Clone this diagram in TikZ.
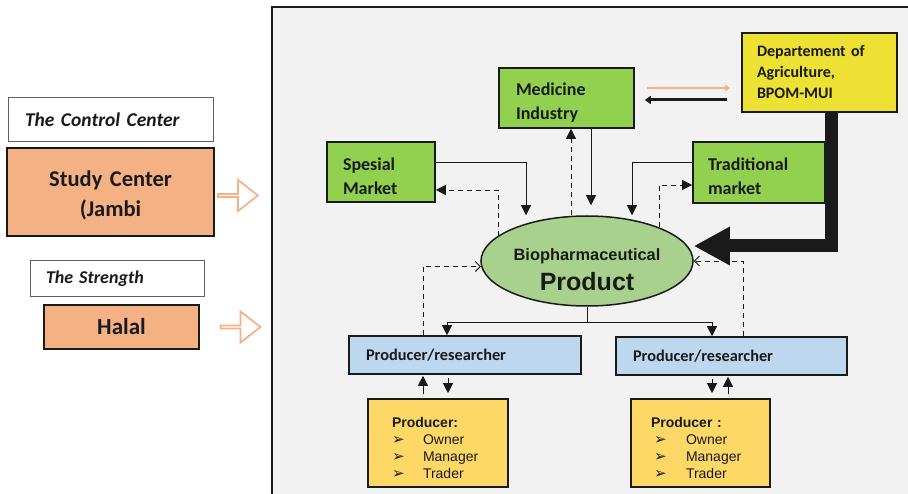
\documentclass[tikz,border=0pt]{standalone}
\usepackage{fontspec}
\setmainfont{Carlito}
\newfontfamily\arialf{Liberation Sans}
\newfontfamily\dvf{DejaVu Sans}
\usetikzlibrary{arrows.meta,shapes.geometric,shapes.arrows,calc}
\definecolor{panelgray}{HTML}{F2F2F2}
\definecolor{gfill}{HTML}{92D050}
\definecolor{peach}{HTML}{F4B183}
\definecolor{deptyel}{HTML}{EDE233}
\definecolor{blueone}{HTML}{BDD7EE}
\definecolor{yeltwo}{HTML}{FDD866}
\definecolor{ellg}{HTML}{A9D18E}
\definecolor{ink}{HTML}{1A1A1A}
\newcommand\bulx[1]{\makebox[#1][l]{\dvf\fontsize{15}{17}\selectfont ➢}}
\newcommand\strutx[1]{\rule{0pt}{#1}}
\begin{document}
\begin{tikzpicture}[x=1pt,y=-1pt,
 box/.style={draw=ink, line width=1.6pt, rectangle, inner ysep=0pt, align=left, text=ink},
 wbox/.style={draw=ink!70, line width=1pt, fill=white, rectangle, inner ysep=0pt, align=left, text=ink},
 arr/.style={-{Triangle[length=10pt,width=10pt]}, line width=0.9pt, draw=ink},
 darr/.style={arr, dash pattern=on 5pt off 4pt},
 oarr/.style={-{Straight Barb[length=5pt,width=10pt,line width=1pt]}, line width=0.9pt, draw=ink, dash pattern=on 5pt off 4pt},
 barrow/.style={single arrow, draw=peach, line width=1.7pt, fill=white, minimum width=31, minimum height=40, single arrow head extend=8.5, single arrow tip angle=76, inner sep=0}
]
\useasboundingbox (0,0) rectangle (908,494);
\fill[white] (0,0) rectangle (908,494);
% panel
\fill[panelgray] (272,7) rectangle (915,500);
\draw[ink, line width=1.5pt] (272,500) -- (272,7) -- (915,7);

% left column
\node[wbox, minimum width=205, minimum height=44, text width=171, inner xsep=17,
  font=\bfseries\itshape\fontsize{19.5}{23}\selectfont] (cc) at (110.5,120) {The Control Center};
\node[box, fill=peach, line width=2pt, minimum width=207, minimum height=88, text width=180, inner xsep=13.5, align=center,
  font=\bfseries\fontsize{22.5}{30}\selectfont] (study) at (110.5,192) {\strutx{23pt}Study Center\\(Jambi};
\node[wbox, minimum width=174, minimum height=36, text width=142, inner xsep=16,
  font=\bfseries\itshape\fontsize{18}{22}\selectfont] (str) at (117,279) {The Strength};
\node[box, fill=peach, minimum width=155, minimum height=44, text width=130, inner xsep=12.5, align=center,
  font=\bfseries\fontsize{23}{27}\selectfont] (halal) at (121.5,327) {Halal};
\node[barrow] (ba1) at (237,195.5) {};
\node[barrow] (ba2) at (239.5,327) {};

% main nodes
\node[box, fill=gfill, minimum width=135, minimum height=60, text width=101, inner xsep=17,
  font=\bfseries\fontsize{18}{24}\selectfont] (med) at (566.5,98) {\strutx{21pt}Medicine\\Industry};
\node[box, fill=gfill, minimum width=108, minimum height=60, text width=76, inner xsep=16,
  font=\bfseries\fontsize{18}{24}\selectfont] (spe) at (381,172) {\strutx{21pt}Spesial\\Market};
\node[box, fill=gfill, minimum width=132, minimum height=61, text width=102, inner xsep=15,
  font=\bfseries\fontsize{18}{24}\selectfont] (tra) at (759,172.5) {\strutx{21pt}Traditional\\market};
\node[box, fill=deptyel, minimum width=155, minimum height=79, text width=125, inner xsep=15,
  font=\bfseries\fontsize{16}{21}\selectfont] (dept) at (819.5,72.5) {Departement of\\Agriculture,\\BPOM-MUI};
\node[ellipse, draw=ink, line width=1.5pt, fill=ellg, minimum width=212, minimum height=90, inner sep=0, align=center, text=ink,
  font=\arialf\bfseries\fontsize{25}{30}\selectfont] (ell) at (587,261)
  {{\fontsize{16.4}{30}\selectfont\strutx{30pt}Biopharmaceutical}\\Product};
\node[box, fill=blueone, minimum width=232, minimum height=38, text width=198, inner xsep=17,
  font=\bfseries\fontsize{16.3}{20}\selectfont] (prL) at (465,355) {Producer/researcher};
\node[box, fill=blueone, minimum width=231, minimum height=38, text width=197, inner xsep=17,
  font=\bfseries\fontsize{16.3}{20}\selectfont] (prR) at (731.5,356) {Producer/researcher};
\node[box, fill=yeltwo, minimum width=140, minimum height=88, text width=92, inner xsep=24,
  font=\arialf\fontsize{14}{17}\selectfont] (yL) at (438,443)
  {\strutx{20pt}\textbf{Producer:}\\\bulx{31pt}Owner\\\bulx{31pt}Manager\\\bulx{31pt}Trader};
\node[box, fill=yeltwo, minimum width=139, minimum height=88, text width=99, inner xsep=20,
  font=\arialf\fontsize{14}{17}\selectfont] (yR) at (700.5,443)
  {\strutx{20pt}\textbf{Producer :}\\\hspace*{3pt}\bulx{32pt}Owner\\\hspace*{3pt}\bulx{32pt}Manager\\\hspace*{3pt}\bulx{32pt}Trader};

% connectors
\draw[arr] ($(spe.east)+(0,-10)$) -| ($(ell.north)+(-61,0)$);
\draw[darr] (ell.164) |- ($(spe.east)+(0,18)$);
\draw[arr, shorten >=10pt] ($(med.south)+(24.5,0)$) -- ($(ell.north)+(4,0)$);
\draw[darr] ($(ell.north)+(-16,0)$) -- ($(med.south)+(4.5,0)$);
\draw[arr] ($(tra.west)+(0,-10.5)$) -| ($(ell.north)+(45,0)$);
\draw[darr] (ell.25) |- ($(tra.west)+(0,12.5)$);
\draw[ink, line width=13pt, line join=miter, -{Triangle[length=36pt,width=36pt]}]
  ($(dept.south)+(11.5,0)$) |- ($(ell.east)+(0,-15)$);
\draw[peach, line width=2.8pt, -{Triangle[length=5pt,width=6pt]}] ($(med.east)+(12,-10)$) -- ($(dept.west)+(-11,15.5)$);
\draw[ink, line width=3pt, -{Triangle[length=6pt,width=8pt]}] ($(dept.west)+(-14,27.5)$) -- ($(med.east)+(10,2)$);

\draw[ink, line width=0.9pt] (ell.south) -- ++(0,16) coordinate (split);
\draw[arr] (split) -| ($(prL.north)+(-18,0)$);
\draw[arr] (split) -| ($(prR.north)+(-19.5,0)$);
\draw[oarr] ($(prL.north)+(-42,0)$) |- (ell.183);
\draw[oarr] ($(prR.north)+(11.5,0)$) |- (ell.east);

\draw[arr, shorten <=4pt, shorten >=1pt] ($(yL.north)+(-15,0)$) -- ($(prL.south)+(-42,0)$);
\draw[arr, shorten <=3pt, shorten >=5pt] ($(prL.south)+(-17,0)$) -- ($(yL.north)+(10,0)$);
\draw[arr, shorten <=3pt, shorten >=5pt] ($(prR.south)+(-19.5,0)$) -- ($(yR.north)+(11.5,0)$);
\draw[arr, shorten <=4pt, shorten >=1pt] ($(yR.north)+(27.5,0)$) -- ($(prR.south)+(-3.5,0)$);
\end{tikzpicture}
\end{document}
